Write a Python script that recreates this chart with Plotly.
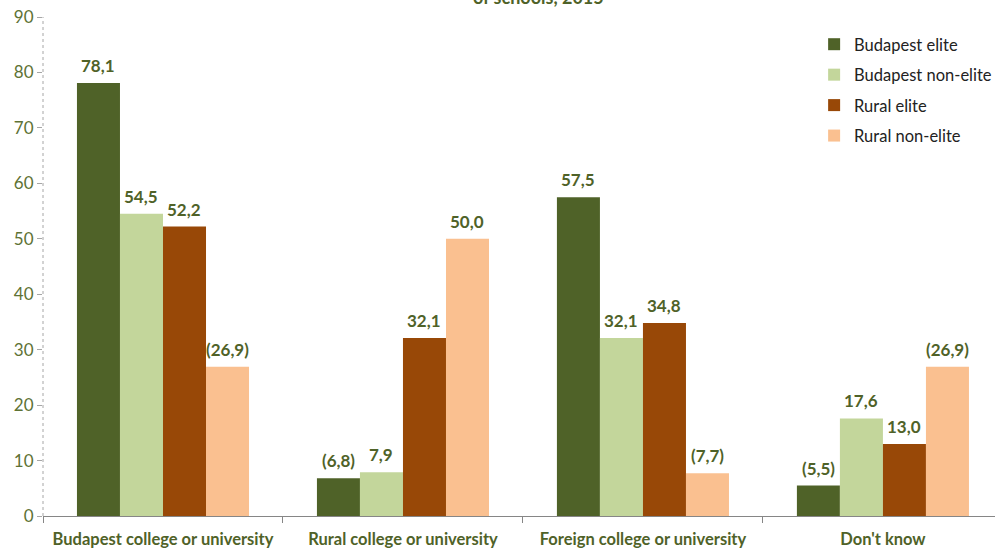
import plotly.graph_objects as go

categories = ["Budapest college or university", "Rural college or university",
              "Foreign college or university", "Don't know"]
series_names = ["Budapest elite", "Budapest non-elite", "Rural elite", "Rural non-elite"]
budapest_elite = [78.1, 6.8, 57.5, 5.5]
budapest_non_elite = [54.5, 7.9, 32.1, 17.6]
rural_elite = [52.2, 32.1, 34.8, 13.0]
rural_non_elite = [26.9, 50.0, 7.7, 26.9]
# values based on small samples are shown in brackets
small_sample = [
    [False, True, False, True],
    [False, False, False, False],
    [False, False, False, False],
    [True, False, True, True],
]
y_ticks = [0, 10, 20, 30, 40, 50, 60, 70, 80, 90]
title_text = "of schools, 2015"

colors = ["#4F6228", "#C3D69B", "#984807", "#FAC090"]
label_color = "#4F6228"
font_family = "Lato, 'Open Sans', sans-serif"

all_values = [budapest_elite, budapest_non_elite, rural_elite, rural_non_elite]

fig = go.Figure()
for name, vals, col in zip(series_names, all_values, colors):
    fig.add_trace(go.Bar(name=name, legendgroup=name, x=categories, y=vals,
                         marker=dict(color=col, line=dict(width=0))))

def fmt(v, bracket):
    s = f"{v:.1f}".replace(".", ",")
    return f"({s})" if bracket else s

bar_px = 43
for si, vals in enumerate(all_values):
    for ci, v in enumerate(vals):
        fig.add_annotation(
            x=categories[ci], y=v, text=f"<b>{fmt(v, small_sample[si][ci])}</b>",
            showarrow=False, xanchor="center", yanchor="bottom",
            xshift=(si - 1.5) * bar_px, yshift=5,
            font=dict(family=font_family, size=17, color=label_color),
        )

fig.add_annotation(
    xref="paper", yref="paper", x=0.52, y=1, xanchor="center", yanchor="bottom",
    yshift=7, text=f"<b>{title_text}</b>", showarrow=False,
    font=dict(family=font_family, size=18, color=label_color),
)

# dotted value axis line
fig.add_shape(type="line", xref="paper", yref="paper", x0=0, x1=0, y0=0, y1=1,
              line=dict(color="#A6A6A6", width=1, dash="dot"))

fig.update_layout(
    width=995, height=550,
    margin=dict(l=43, r=0, t=17, b=34, autoexpand=False),
    plot_bgcolor="white", paper_bgcolor="white",
    barmode="group", bargap=0.283, bargroupgap=0,
    font=dict(family=font_family),
    legend=dict(x=0.81, y=0.98, xanchor="left", yanchor="top",
                font=dict(size=16.5, color="#222222"), itemwidth=30,
                tracegroupgap=6, bgcolor="rgba(0,0,0,0)"),
    showlegend=True,
)
fig.update_xaxes(
    range=[-0.5, 3.467], showgrid=False, showline=True, linecolor="#868686", linewidth=1,
    ticks="outside", tickson="boundaries", ticklen=6, tickcolor="#868686",
    tickfont=dict(family=font_family, size=16.5, color=label_color),
    tickprefix="<b>", ticksuffix="</b>", ticklabelstandoff=8, fixedrange=True,
)
fig.update_yaxes(
    range=[0, 90], tickvals=y_ticks, showgrid=False, zeroline=False, showline=False,
    ticks="outside", ticklen=5, tickcolor="#A6A6A6",
    tickfont=dict(family=font_family, size=17, color="#5E7235"),
)

fig.write_html("out.html")
